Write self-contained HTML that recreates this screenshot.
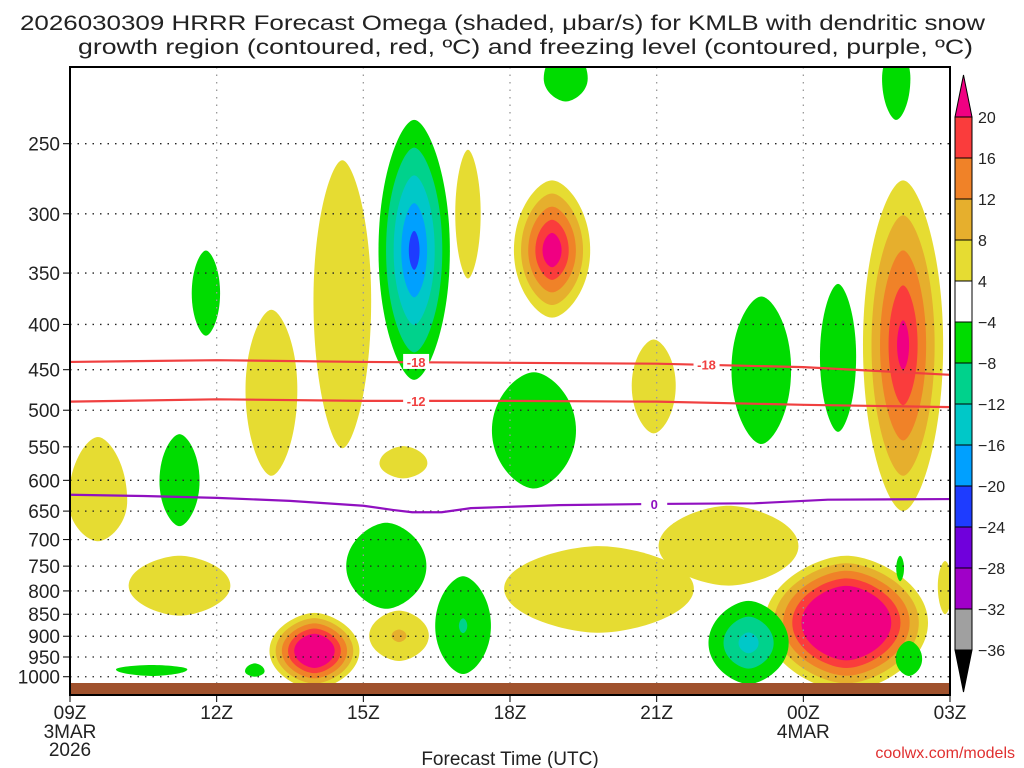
<!DOCTYPE html>
<html><head><meta charset="utf-8"><style>
html,body{margin:0;padding:0;background:#fff;width:1024px;height:768px;overflow:hidden}
svg text{font-family:"Liberation Sans",sans-serif;fill:#222}
</style></head><body>
<svg id="chart" width="1024" height="768" viewBox="0 0 1024 768" xmlns="http://www.w3.org/2000/svg">
<rect x="0" y="0" width="1024" height="768" fill="#fff"/>
<text x="20" y="30" font-size="21" textLength="965" lengthAdjust="spacingAndGlyphs">2026030309 HRRR Forecast Omega (shaded, μbar/s) for KMLB with dendritic snow</text>
<text x="78" y="54" font-size="21" textLength="895" lengthAdjust="spacingAndGlyphs">growth region (contoured, red, ºC) and freezing level (contoured, purple, ºC)</text>
<g id="shade"></g>
<g id="grid"></g>
<g id="lines"></g>
<g id="axes"></g>
<g id="cbar"></g>
<text x="510" y="765" font-size="19" text-anchor="middle">Forecast Time (UTC)</text>
<text x="1015" y="758" font-size="16" text-anchor="end" style="fill:#e03030">coolwx.com/models</text>
</svg>
<script>
// ---- data ----
const timeTicks = [0,3,6,9,12,15,18];
const timeLabels = ['09Z','12Z','15Z','18Z','21Z','00Z','03Z'];
const pressureTicks = [250,300,350,400,450,500,550,600,650,700,750,800,850,900,950,1000];
// omega blobs: hour, center hPa, half-width hours, top hPa, bottom hPa, number of levels, sign, core fraction
const blobHour   = [0.57,2.24,4.12,5.57,6.82,8.14,9.86,11.94,10.82,13.47,15.88,17.04,5.0,6.73,17.9, 2.78,2.24,7.04,6.47,8.04,9.49,14.14,15.71,16.9,10.14,13.88,17.16,1.67,3.78,16.98];
const blobP      = [633,789,474,376,574,300,330,469,795,712,869,422,935,899,790, 369,601,330,750,876,527,450,435,211,211,916,955,981,986,754];
const blobHalfW  = [0.6,1.04,0.53,0.59,0.49,0.26,0.78,0.45,1.94,1.43,1.67,0.82,0.92,0.61,0.15, 0.29,0.41,0.73,0.82,0.57,0.86,0.61,0.37,0.29,0.45,0.82,0.27,0.73,0.2,0.08];
const blobTop    = [536,730,385,261,549,254,275,416,712,641,730,275,847,842,740, 330,532,235,670,770,453,372,360,195,195,821,911,970,966,730];
const blobBot    = [703,853,593,552,597,355,393,531,892,789,1038,650,1032,960,850, 412,676,462,838,993,613,546,529,235,224,1019,998,998,1000,780];
const blobLevels = [1,1,1,1,1,1,5,1,1,1,5,5,5,2,1, 1,1,5,1,2,1,1,1,1,1,3,1,1,1,1];
const blobSign   = [1,1,1,1,1,1,1,1,1,1,1,1,1,1,1, -1,-1,-1,-1,-1,-1,-1,-1,-1,-1,-1,-1,-1,-1,-1];
const blobCore   = [1,1,1,1,1,1,0.25,1,1,1,0.55,0.15,0.45,0.25,1, 1,1,0.15,1,0.15,1,1,1,1,1,0.25,1,1,1,1];
// contour lines
const iso18Hours = [0,3,6,9,12,15,18];
const iso18P     = [441,439,441,442,443,447,456];
const iso12Hours = [0,3,6,9,12,15,18];
const iso12P     = [489,486,488,488,489,493,496];
const frzHours   = [0,1.5,3,4.5,6,6.6,7,7.6,8.2,10,12,14,15.5,18];
const frzP       = [623,625,628,633,641,648,652,652,645,640,638,637,631,630];
const cbarLabels = ['20','16','12','8','4','−4','−8','−12','−16','−20','−24','−28','−32','−36'];

// ---- scales ----
const X0=70, X1=950, Y0=67, Y1=695;
const xs = h => X0 + h*(X1-X0)/18;
const ys = p => 143.7 + 384.5*Math.log(p/250);
const NS='http://www.w3.org/2000/svg';
function mk(tag, attrs, parent){const e=document.createElementNS(NS,tag);for(const k in attrs)e.setAttribute(k,attrs[k]);parent.appendChild(e);return e;}
const posC=['#e6dc32','#e6af2d','#f08228','#fa3c3c','#f00082'];
const negC=['#00dc00','#00d28c','#00c8c8','#00a0ff','#1e3cff'];

const shade=document.getElementById('shade');
const cp=mk('clipPath',{id:'plotclip'},shade);
mk('rect',{x:X0,y:Y0,width:X1-X0,height:Y1-Y0},cp);
shade.setAttribute('clip-path','url(#plotclip)');
for(let i=0;i<blobHour.length;i++){
  const cx=xs(blobHour[i]), cy=ys(blobP[i]);
  const rx=blobHalfW[i]*(X1-X0)/18;
  const rt=cy-ys(blobTop[i]), rb=ys(blobBot[i])-cy;
  const n=blobLevels[i];
  for(let k=0;k<n;k++){
    const s = n===1?1:1-k*(1-blobCore[i])/(n-1);
    const a=rx*s, t=rt*s, b=rb*s;
    const v=0.6, h=0.35;
    const d=`M${cx-a},${cy} C${cx-a},${cy-t*v} ${cx-a*h},${cy-t} ${cx},${cy-t} C${cx+a*h},${cy-t} ${cx+a},${cy-t*v} ${cx+a},${cy} C${cx+a},${cy+b*v} ${cx+a*h},${cy+b} ${cx},${cy+b} C${cx-a*h},${cy+b} ${cx-a},${cy+b*v} ${cx-a},${cy}Z`;
    const el=mk('path',{d:d,fill:(blobSign[i]>0?posC:negC)[k]},shade);
    
    
  }
}

const grid=document.getElementById('grid');
pressureTicks.forEach(p=>{
  const l=mk('line',{x1:X0,x2:X1,y1:ys(p),y2:ys(p),stroke:'#222','stroke-width':1.3,'stroke-dasharray':'1.5 6'},grid);
  
  
});
timeTicks.slice(1,-1).forEach(h=>{
  const l=mk('line',{x1:xs(h),x2:xs(h),y1:Y0,y2:Y1,stroke:'#999','stroke-width':1.3,'stroke-dasharray':'1.5 6'},grid);
  
  
});

const lines=document.getElementById('lines');
function poly(hs,ps,color,name){
  const pts=hs.map((h,i)=>xs(h)+','+ys(ps[i])).join(' ');
  const el=mk('polyline',{points:pts,fill:'none',stroke:color,'stroke-width':2.2,'stroke-linejoin':'round'},lines);
  
  
}
poly(iso18Hours,iso18P,'#f04040','isotherm-minus-18');
poly(iso12Hours,iso12P,'#f04040','isotherm-minus-12');
poly(frzHours,frzP,'#9010c0','freezing-level-line');
function lab(h,p,txt,color){
  const x=xs(h),y=ys(p);
  const r=mk('rect',{x:x-13,y:y-8,width:26,height:15,fill:'#fff'},lines);
  
  
  const t=mk('text',{x:x,y:y+5,'font-size':13,'text-anchor':'middle',style:'fill:'+color+';font-weight:bold'},lines);
  t.textContent=txt;
  
  
}
lab(7.08,441,'-18','#f04040');
lab(13.02,444,'-18','#f04040');
lab(7.08,488,'-12','#f04040');
lab(11.95,638,'0','#9010c0');

const axes=document.getElementById('axes');
const g=mk('rect',{x:X0,y:683,width:X1-X0,height:Y1-683,fill:'#a0522d'},axes);


const fr=mk('rect',{x:X0,y:Y0,width:X1-X0,height:Y1-Y0,fill:'none',stroke:'#000','stroke-width':2},axes);


pressureTicks.forEach(p=>{
  const y=ys(p);
  const tk=mk('line',{x1:X0-7,x2:X0,y1:y,y2:y,stroke:'#000','stroke-width':1},axes);
  
  
  const t=mk('text',{x:60,y:y+7,'font-size':19,'text-anchor':'end'},axes);
  t.textContent=p;
  
  
});
timeTicks.forEach((h,i)=>{
  const x=xs(h);
  const tk=mk('line',{x1:x,x2:x,y1:Y1,y2:Y1+7,stroke:'#000','stroke-width':1},axes);
  
  
  const t=mk('text',{x:x,y:719,'font-size':19,'text-anchor':'middle'},axes);
  t.textContent=timeLabels[i];
  
  
});
[['3MAR',0,738],['2026',0,756],['4MAR',15,738]].forEach(a=>{
  const t=mk('text',{x:xs(a[1]),y:a[2],'font-size':19,'text-anchor':'middle'},axes);
  t.textContent=a[0];
  
  
});

const cbar=document.getElementById('cbar');
const cbCols=['#fa3c3c','#f08228','#e6af2d','#e6dc32','#ffffff','#00dc00','#00d28c','#00c8c8','#00a0ff','#1e3cff','#7000dc','#a000c8','#a0a0a0'];
const cbX=955, cbW=17, cbTop=117, cbH=41;
const tri1=mk('polygon',{points:`${cbX},${cbTop} ${cbX+cbW},${cbTop} ${cbX+cbW/2},75`,fill:'#f00082',stroke:'#000','stroke-width':1},cbar);


cbCols.forEach((c,i)=>{
  const r=mk('rect',{x:cbX,y:cbTop+i*cbH,width:cbW,height:cbH,fill:c,stroke:'#000','stroke-width':1},cbar);
  
  
});
const bot=cbTop+cbCols.length*cbH;
const tri2=mk('polygon',{points:`${cbX},${bot} ${cbX+cbW},${bot} ${cbX+cbW/2},${bot+42}`,fill:'#000',stroke:'#000','stroke-width':1},cbar);


cbarLabels.forEach((s,i)=>{
  const t=mk('text',{x:978,y:cbTop+i*cbH+6,'font-size':16},cbar);
  t.textContent=s;
  
  
});
</script>
</body></html>
